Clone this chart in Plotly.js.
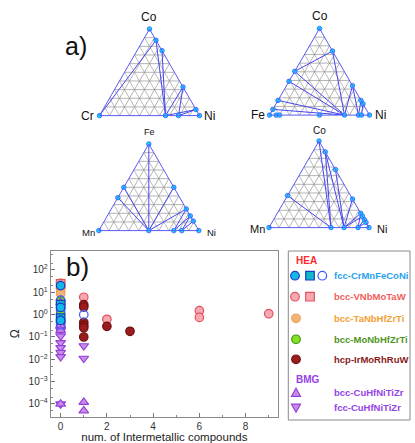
<!DOCTYPE html>
<html><head><meta charset="utf-8">
<script src="https://cdn.plot.ly/plotly-3.0.1.min.js"></script>
<style>html,body{margin:0;padding:0;background:#fff}#chart{width:415px;height:443px}</style>
</head><body><div id="chart"></div>
<script>
// ---------- Ternary data (a = top, b = left, c = right), compositions ----------
const t1Labels = ['Co', 'Cr', 'Ni'];
const t1A = [1, .87, .75, .33, .07, 0, 0, 0, 0];
const t1B = [0, 0, 0, 0, 0, 0, 1, .34, .21];
const t1C = [0, .13, .25, .67, .93, 1, 0, .66, .79];
const t1Ties = [[6,1],[1,7],[2,7],[3,7],[3,8],[4,8],[4,7]];

const t2Labels = ['Co', 'Fe', 'Ni'];
const t2A = [1, .74, .34, .17, .13, 0, 0, .505, .39, .17, .066, 0, 0, 0, 0, 0, 0];
const t2B = [0, 0, 0, 0, 0, 0, 1, .495, .61, .83, .934, .933, .90, .5, .25, .11, .08];
const t2C = [0, .26, .66, .83, .87, 1, 0, 0, 0, 0, 0, .067, .10, .5, .75, .89, .92];
const t2Ties = [[1,7],[1,14],[7,14],[8,14],[9,14],[10,14],[2,14],[2,15],[3,15],[4,16]];

const t3Labels = ['Fe', 'Mn', 'Ni'];
const t3A = [1, .5, .38, .5, .25, .17, .11, 0, 0, 0, 0, 0];
const t3B = [0, .5, .62, 0, 0, 0, 0, 0, 1, .5, .25, .17];
const t3C = [0, 0, 0, .5, .75, .83, .89, 1, 0, .5, .75, .83];
const t3Ties = [[0,9],[1,9],[2,9],[3,9],[4,9],[4,10],[5,10],[5,11],[6,11]];

const t4Labels = ['Co', 'Mn', 'Ni'];
const t4A = [1, .874, .67, .33, .165, .13, .09, .06, 0, 0, .37, 0, 0, 0];
const t4B = [0, 0, 0, 0, 0, 0, 0, 0, 0, 1, .63, .38, .25, .11];
const t4C = [0, .126, .33, .67, .835, .87, .91, .94, 1, 0, 0, .62, .75, .89];
const t4Ties = [[0,11],[1,11],[1,12],[2,12],[3,12],[10,11],[4,12],[5,12],[6,13],[7,13],[4,13]];

// ---------- Scatter data: number of intermetallic compounds vs Omega ----------
const fccCircleX = [0, 0, 0];              const fccCircleY = [20, 2.1, 0.55];
const fccSquareX = [0, 0];                 const fccSquareY = [2.8, 0.7];
const fccOpenX = [0, 0, 0, 1];             const fccOpenY = [4.5, 1.5, 0.35, 1.0];
const vnbCircleX = [1, 2, 6, 6, 9];        const vnbCircleY = [6, 0.62, 1.5, 0.75, 1.1];
const vnbSquareX = [0];                    const vnbSquareY = [24];
const tanbX = [0, 0, 0, 0];                const tanbY = [26, 15, 11, 8.5];
const monbX = [0, 0, 0, 0];                const monbY = [4, 1.1, 0.6, 0.3];
const hcpX = [0, 0, 1, 1, 1, 1, 1, 1, 2, 3];
const hcpY = [0.43, 0.25, 2.8, 2.2, 0.45, 0.33, 0.26, 0.1, 0.3, 0.18];
const bmgBccX = [0, 0, 0, 0, 1, 1];        const bmgBccY = [3.5, 0.33, 0.2, 1e-4, 1.2e-4, 5e-5];
const bmgFccX = [0, 0, 0, 0, 0, 0, 0, 1, 1];
const bmgFccY = [0.2, 0.11, 0.055, 0.033, 0.02, 0.013, 1e-4, 0.04, 0.011];

const yTickExps = [-4, -3, -2, -1, 0, 1, 2];
const legendNames = ['fcc-CrMnFeCoNi', 'bcc-VNbMoTaW', 'bcc-TaNbHfZrTi', 'bcc-MoNbHfZrTi', 'hcp-IrMoRhRuW', 'bcc-CuHfNiTiZr', 'fcc-CuHfNiTiZr'];

// ---------- Styles ----------
const W = 415, H = 443;
const px = x => x / W, py = y => 1 - y / H;
const FONT = 'Liberation Sans, Arial, sans-serif';
const TIE = '#4646f0';
const C = {
  cyan: '#12b8e6', cyanLine: '#1a3cc8', sq: '#10b8c8', open: '#3c5cff',
  pink: '#f7a9b2', pinkLine: '#e2505e', orange: '#f2b478', orangeLine: '#eaa258',
  green: '#84e024', greenLine: '#3f9a10', red: '#9b1c1c', redLine: '#701010',
  purple: '#c98de8', purpleLine: '#9440d8'
};
const txt = {
  fcc: '#2aa2ee', vnb: '#f0605a', tanb: '#f4a034', monb: '#4e9622', hcp: '#8a1a1a', bmg: '#9442e6', hea: '#ff2a2a'
};

const traces = [];
function addTernary(sub, A, B, Cc, ties) {
  ties.forEach(([i, j]) => traces.push({
    type: 'scatterternary', subplot: sub, mode: 'lines', a: [A[i], A[j]], b: [B[i], B[j]], c: [Cc[i], Cc[j]],
    line: {color: TIE, width: 1}, hoverinfo: 'skip', showlegend: false, cliponaxis: false
  }));
  traces.push({
    type: 'scatterternary', subplot: sub, mode: 'markers', a: A, b: B, c: Cc, cliponaxis: false,
    marker: {symbol: 'circle', size: 4.5, color: '#10dcff', line: {color: '#2a5cff', width: 0.8}},
    showlegend: false
  });
}
addTernary('ternary', t1A, t1B, t1C, t1Ties);
addTernary('ternary2', t2A, t2B, t2C, t2Ties);
addTernary('ternary3', t3A, t3B, t3C, t3Ties);
addTernary('ternary4', t4A, t4B, t4C, t4Ties);

function sc(name, x, y, symbol, fill, line) {
  traces.push({type: 'scatter', mode: 'markers', name, x, y, xaxis: 'x', yaxis: 'y', showlegend: false, cliponaxis: false,
    marker: {symbol, size: 8.5, color: fill, line: {color: line, width: 1.2}}});
}
sc(legendNames[2], tanbX, tanbY, 'circle', C.orange, C.orangeLine);
sc(legendNames[1], vnbSquareX, vnbSquareY, 'square', C.pink, C.pinkLine);
sc(legendNames[1], vnbCircleX, vnbCircleY, 'circle', C.pink, C.pinkLine);
sc(legendNames[3], monbX, monbY, 'circle', C.green, C.greenLine);
sc(legendNames[4], hcpX, hcpY, 'circle', C.red, C.redLine);
sc(legendNames[6], bmgFccX, bmgFccY, 'triangle-down', C.purple, C.purpleLine);
sc(legendNames[5], bmgBccX, bmgBccY, 'triangle-up', C.purple, C.purpleLine);
sc(legendNames[0], fccOpenX, fccOpenY, 'circle-open', C.open, C.open);
sc(legendNames[0], fccSquareX, fccSquareY, 'square', C.sq, C.cyanLine);
sc(legendNames[0], fccCircleX, fccCircleY, 'circle', C.cyan, C.cyanLine);

// ---------- Ternary layouts ----------
function tern(x0, x1, y0, y1) {
  const ax = {showticklabels: false, ticks: '', linecolor: '#5a5af5', linewidth: 1, showline: true,
    showgrid: true, gridcolor: '#8e8e8e', gridwidth: 0.6, dtick: 0.1, title: {text: ''}};
  return {domain: {x: [px(x0), px(x1)], y: [py(y1), py(y0)]}, sum: 1, bgcolor: 'rgba(0,0,0,0)',
    aaxis: {...ax}, baxis: {...ax}, caxis: {...ax}};
}

const ann = [];
function label(text, x, y, size, xanchor) {
  ann.push({text, x: px(x), y: py(y), xref: 'paper', yref: 'paper', showarrow: false, xanchor: xanchor || 'center', yanchor: 'middle',
    font: {family: FONT, size, color: '#111'}});
}
label(t1Labels[0], 149, 16.5, 12); label(t1Labels[1], 96, 116, 12, 'right'); label(t1Labels[2], 202, 116, 12, 'left');
label(t2Labels[0], 319.5, 16, 12); label(t2Labels[1], 267, 115, 12, 'right'); label(t2Labels[2], 372.5, 115, 12, 'left');
label(t3Labels[0], 149, 132, 9); label(t3Labels[1], 97, 232.5, 9.5, 'right'); label(t3Labels[2], 204.5, 232.5, 9.5, 'left');
label(t4Labels[0], 319.5, 130, 10); label(t4Labels[1], 267, 229, 11, 'right'); label(t4Labels[2], 375, 229, 11, 'left');
label('a)', 76, 46, 25); label('b)', 77.5, 267, 26);

// ---------- Legend (layout decoration) ----------
const shapes = [];
shapes.push({type: 'rect', xref: 'paper', yref: 'paper', x0: px(288.3), x1: px(410), y0: py(420), y1: py(251),
  line: {color: '#8a8a8a', width: 1}, fillcolor: 'rgba(0,0,0,0)'});
function gCircle(cx, cy, r, fill, line) {
  shapes.push({type: 'circle', xref: 'paper', yref: 'paper', x0: px(cx - r), x1: px(cx + r), y0: py(cy + r), y1: py(cy - r),
    fillcolor: fill, line: {color: line, width: 1.2}});
}
function gSquare(cx, cy, r, fill, line) {
  shapes.push({type: 'rect', xref: 'paper', yref: 'paper', x0: px(cx - r), x1: px(cx + r), y0: py(cy + r), y1: py(cy - r),
    fillcolor: fill, line: {color: line, width: 1.2}});
}
function gTri(cx, cy, r, up, fill, line) {
  const s = up ? 1 : -1;
  const pts = [[cx, cy - s * r], [cx - r, cy + s * r * 0.8], [cx + r, cy + s * r * 0.8]];
  shapes.push({type: 'path', xref: 'paper', yref: 'paper',
    path: 'M' + pts.map(p => px(p[0]) + ',' + py(p[1])).join(' L') + ' Z', fillcolor: fill, line: {color: line, width: 1.2}});
}
const legRowY = [275.7, 296.7, 318.3, 339.3, 359.3, 392.7, 407.7];
const legTxtColors = [txt.fcc, txt.vnb, txt.tanb, txt.monb, txt.hcp, txt.bmg, txt.bmg];
gCircle(295, legRowY[0], 4.3, C.cyan, C.cyanLine); gSquare(310, legRowY[0], 4.3, C.sq, C.cyanLine); gCircle(322.3, legRowY[0], 4.3, 'rgba(0,0,0,0)', C.open);
gCircle(295, legRowY[1], 4.3, C.pink, C.pinkLine); gSquare(310, legRowY[1], 4.3, C.pink, C.pinkLine);
gCircle(296, legRowY[2], 4.3, C.orange, C.orangeLine);
gCircle(296, legRowY[3], 4.3, C.green, C.greenLine);
gCircle(296, legRowY[4], 4.3, C.red, C.redLine);
gTri(296, legRowY[5], 4.5, true, C.purple, C.purpleLine);
gTri(296, legRowY[6], 4.5, false, C.purple, C.purpleLine);
legendNames.forEach((n, i) => ann.push({text: '<b>' + n + '</b>', x: px(331.5), y: py(legRowY[i]), xref: 'paper', yref: 'paper',
  xanchor: 'left', yanchor: 'middle', showarrow: false, font: {family: FONT, size: 9.5, color: legTxtColors[i]}}));
ann.push({text: '<b>HEA</b>', x: px(294), y: py(260), xref: 'paper', yref: 'paper', xanchor: 'left', yanchor: 'middle', showarrow: false,
  font: {family: FONT, size: 10, color: txt.hea}});
ann.push({text: '<b>BMG</b>', x: px(294), y: py(379.3), xref: 'paper', yref: 'paper', xanchor: 'left', yanchor: 'middle', showarrow: false,
  font: {family: FONT, size: 10, color: txt.bmg}});

const layout = {
  width: W, height: H, margin: {l: 0, r: 0, t: 0, b: 0}, paper_bgcolor: '#fff', plot_bgcolor: '#fff',
  showlegend: false, font: {family: FONT, color: '#333'},
  ternary: tern(99.5, 199.5, 29, 115.6),
  ternary2: tern(269.5, 369.5, 28.5, 115.1),
  ternary3: tern(98.8, 198.8, 144, 230.6),
  ternary4: tern(269, 369, 141, 227.6),
  xaxis: {domain: [px(50.7), px(278)], range: [-0.43, 9.4], tick0: 0, dtick: 2, ticks: 'inside', ticklen: 4, tickcolor: '#777',
    minor: {dtick: 1, ticks: 'inside', ticklen: 2, tickcolor: '#888'},
    showline: true, linecolor: '#8a8a8a', linewidth: 1, mirror: true, showgrid: false, zeroline: false,
    tickfont: {size: 10, color: '#333'}, title: {text: 'num. of Intermetallic compounds', font: {size: 11.5, color: '#222'}, standoff: 4},
    anchor: 'y'},
  yaxis: {domain: [py(416.7), py(251)], type: 'log', range: [-4.57, 2.85],
    tickmode: 'array', tickvals: yTickExps.map(e => Math.pow(10, e)),
    ticktext: yTickExps.map(e => '10<sup>' + (e < 0 ? '\u2212' + (-e) : e) + '</sup>'),
    ticks: 'inside', ticklen: 4, tickcolor: '#777', minor: {ticks: 'inside', ticklen: 2, tickcolor: '#888'},
    showline: true, linecolor: '#8a8a8a', linewidth: 1, mirror: true, showgrid: false, zeroline: false,
    tickfont: {size: 10, color: '#333'}, title: {text: 'Ω', font: {size: 12, color: '#222'}, standoff: 6}, anchor: 'x'},
  annotations: ann, shapes: shapes
};
Plotly.newPlot('chart', traces, layout, {displayModeBar: false, staticPlot: true});
</script></body></html>
